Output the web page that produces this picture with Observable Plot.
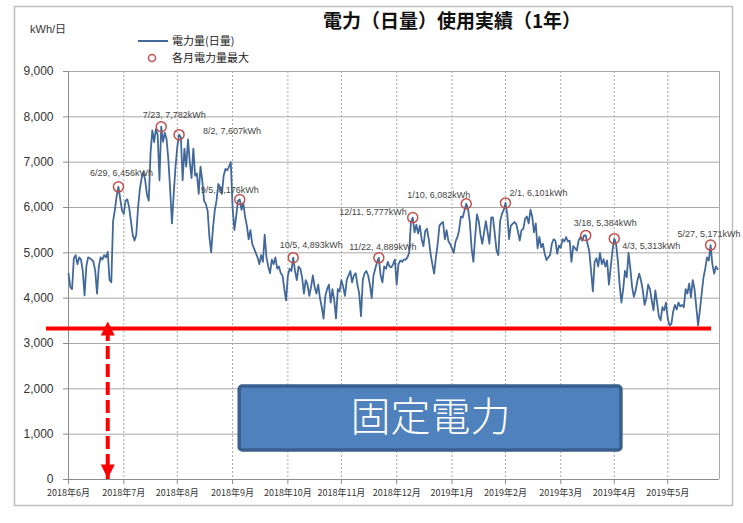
<!DOCTYPE html>
<html><head><meta charset="utf-8">
<script src="https://cdn.jsdelivr.net/npm/d3@7"></script>
<script src="https://cdn.jsdelivr.net/npm/@observablehq/plot@0.6"></script>
<style>
body{margin:0;background:#fff}
#chart{width:743px;height:523px}
</style></head><body><div id="chart"></div>
<script>
// ---- data: daily electricity use (kWh/day), one array per month ----
const jun = [4540,4250,4200,4880,4950,4750,4900,4850,4600,4060,4700,4900,4880,4850,4800,4600,4100,4700,4900,4850,4950,4900,5020,4400,4350,5700,5950,6250,6456,6190];
const jul = [5930,5860,6150,6180,6000,5700,5400,5270,5400,6000,6400,6650,6780,6600,6280,6150,7200,7700,7440,7730,7600,6600,7782,7450,7650,7500,7050,6400,5650,6300,6900];
const aug = [7330,7607,7550,6600,7300,6900,7500,7000,6650,7300,6700,6750,6300,6900,6600,6150,6080,5930,5350,5010,5550,5930,6150,6520,6450,6300,6700,6850,6820,6900,7000];
const sep = [6000,5500,5800,6150,6176,5950,6100,5800,5600,5300,5500,5200,5100,5000,4900,4750,4950,4800,5400,4900,4700,4550,4850,4750,4900,4650,4700,4550,4500,4200];
const oct = [3950,4500,4650,4600,4893,4600,4400,4700,4650,4450,4100,4400,4300,4050,4250,4500,4250,4100,4300,4000,3800,3550,4050,4200,4300,3900,4200,3950,3550,4200,4150];
const nov = [4400,4250,4050,4400,4500,4600,4350,4500,4550,4300,4100,3600,4400,4550,4600,4500,4300,4000,4500,4650,4800,4889,4500,4350,4700,4650,4800,4700,4680,4750];
const dec = [4850,4300,4750,4830,4800,4850,4850,4900,5000,5680,5777,5450,5620,5430,5600,5300,5150,5480,5530,5300,4980,4750,4540,4900,5200,5600,5650,5680,5300,5500,5260];
const jan = [5190,5100,5000,5250,5340,5500,5800,5780,5930,6082,5970,5680,5100,4800,5350,5850,5700,5400,5200,5450,5700,5450,5200,5780,5780,5420,5050,4950,5700,5860,5940];
const feb = [6101,5860,5300,5600,5640,5680,5640,5470,5270,5500,5530,5750,5800,5650,5950,5800,5450,5650,5100,5350,5120,5200,4980,4840,4900,4950,5200,5300];
const mar = [5270,4980,5160,5110,5300,5250,5350,5250,5270,4800,5150,5100,5050,5270,5345,5270,5382,5384,5200,5030,4600,4150,4800,4880,4700,5000,4750,4860,4700,4830,4300];
const apr = [4680,5050,5313,5200,4830,4300,3900,4200,4600,4460,5000,4650,4250,4030,4170,4390,4540,4390,4170,3850,4000,4300,4200,3950,3730,4170,3900,3600,3510,3800];
const may = [3730,3900,3550,3400,3430,3700,3850,3750,3900,3820,3850,3800,4200,4100,4320,4020,4400,4200,3800,3400,3730,4100,4450,4650,4900,4830,5171,4750,4540,4700,4640];
const startDate = "2018-06-01";
const endDate = "2019-06-01";

// monthly maxima
const peakDates  = ["2018-06-29","2018-07-23","2018-08-02","2018-09-05","2018-10-05","2018-11-22","2018-12-11","2019-01-10","2019-02-01","2019-03-18","2019-04-03","2019-05-27"];
const peakValues = [6456,7782,7607,6176,4893,4889,5777,6082,6101,5384,5313,5171];
const peakLabels = ["6/29, 6,456kWh","7/23, 7,782kWh","8/2, 7,607kWh","9/5, 6,176kWh","10/5, 4,893kWh","11/22, 4,889kWh","12/11, 5,777kWh","1/10, 6,082kWh","2/1, 6,101kWh","3/18, 5,384kWh","4/3, 5,313kWh","5/27, 5,171kWh"];

// axes
const yTicks = [0,1000,2000,3000,4000,5000,6000,7000,8000,9000];
const xTickDates  = ["2018-06-01","2018-07-02","2018-08-01","2018-09-01","2018-10-02","2018-11-01","2018-12-02","2019-01-02","2019-02-01","2019-03-04","2019-04-03","2019-05-03"];
const xTickLabels = ["2018年6月","2018年7月","2018年8月","2018年9月","2018年10月","2018年11月","2018年12月","2019年1月","2019年2月","2019年3月","2019年4月","2019年5月"];

// annotations
const baseLoad = 3330;             // 固定電力 level (kWh/day)
const arrowDate = "2018-06-23";
const boxLabel = "固定電力";
const boxFrom = "2018-09-05", boxTo = "2019-04-07", boxLow = 640, boxHigh = 2050;

const titleText = "電力（日量）使用実績（1年）";
const unitText = "kWh/日";
const legendLine = "電力量(日量)";
const legendDot = "各月電力量最大";

// ---- build ----
const parse = d3.utcParse("%Y-%m-%d");
const t0 = parse(startDate);
const daily = [jun,jul,aug,sep,oct,nov,dec,jan,feb,mar,apr,may].flat()
  .map((value, i) => ({date: d3.utcDay.offset(t0, i), value}));
const peaks = peakDates.map((d, i) => ({date: parse(d), value: peakValues[i], label: peakLabels[i]}));
const xTicks = xTickDates.map(parse);
const tickLabel = new Map(xTicks.map((d, i) => [+d, xTickLabels[i]]));

// label placement relative to each circle (layout only)
const labelPos = [
  {dx: 3, dy: -14, a: "middle"},
  {dx: 13, dy: -12, a: "middle"},
  {dx: 24, dy: -4, a: "start"},
  {dx: -10, dy: -9, a: "middle"},
  {dx: 18, dy: -13, a: "middle"},
  {dx: 4, dy: -11, a: "middle"},
  {dx: -6, dy: -5, a: "end"},
  {dx: 4, dy: -9, a: "end"},
  {dx: 4, dy: -10, a: "start"},
  {dx: -12, dy: -12, a: "start"},
  {dx: 8, dy: 7, a: "start"},
  {dx: -33, dy: -11, a: "start"}
];

const RED = "#FF0000", LINE = "#43699A", PEAK = "#C0504D", GRID = "#A9A9A9";
const SANS = "'Liberation Sans', 'Noto Sans CJK JP', sans-serif";
const CJK = "'Noto Sans CJK JP', sans-serif";

const triUp = {draw(ctx) { ctx.moveTo(0, 0); ctx.lineTo(7, 14); ctx.lineTo(-7, 14); ctx.closePath(); }};
const triDown = {draw(ctx) { ctx.moveTo(0, 0); ctx.lineTo(7, -14); ctx.lineTo(-7, -14); ctx.closePath(); }};

const arrow = [{date: parse(arrowDate)}];
const box = [{from: parse(boxFrom), to: parse(boxTo), low: boxLow, high: boxHigh, label: boxLabel}];

const chart = Plot.plot({
  width: 743, height: 523,
  marginLeft: 68, marginRight: 24, marginTop: 71, marginBottom: 44,
  style: {fontFamily: SANS, background: "white", overflow: "visible", color: "#333"},
  x: {type: "utc", domain: [parse(startDate), parse(endDate)]},
  y: {domain: [0, 9000]},
  marks: [
    Plot.gridY(yTicks, {stroke: GRID, strokeOpacity: 1}),
    Plot.gridX(xTicks, {stroke: GRID, strokeOpacity: 1, strokeDasharray: "2,2"}),
    Plot.ruleX([parse(endDate)], {stroke: GRID}),
    Plot.ruleX([parse(startDate)], {stroke: "#8C8C8C"}),
    Plot.ruleY([0], {stroke: "#8C8C8C"}),
    Plot.axisY(yTicks, {tickFormat: d3.format(","), tickSize: 5, tickPadding: 10, fontSize: 12, stroke: "#8C8C8C", fill: "#333", label: null}),
    Plot.axisX(xTicks, {tickFormat: d => tickLabel.get(+d), tickSize: 5, tickPadding: 5, fontSize: 9, fontFamily: CJK, stroke: "#8C8C8C", fill: "#333", label: null}),
    Plot.lineY(daily, {x: "date", y: "value", stroke: LINE, strokeWidth: 1.8}),
    Plot.dot(peaks, {x: "date", y: "value", r: 5, stroke: PEAK, strokeWidth: 1.5, fill: "none"}),
    ...peaks.map((p, i) => Plot.text([p], {x: "date", y: "value", text: "label", dx: labelPos[i].dx, dy: labelPos[i].dy, textAnchor: labelPos[i].a, fontSize: 9, fill: "#444"})),
    Plot.ruleY([baseLoad], {stroke: RED, strokeWidth: 4, insetLeft: -22, insetRight: 8}),
    Plot.ruleX(arrow, {x: "date", y1: baseLoad, y2: 0, stroke: RED, strokeWidth: 4, strokeDasharray: "13,5"}),
    Plot.dot(arrow, {x: "date", y: () => baseLoad, symbol: triUp, fill: RED, stroke: "none", dy: -7}),
    Plot.dot(arrow, {x: "date", y: () => 0, symbol: triDown, fill: RED, stroke: "none", dy: -1}),
    Plot.rect(box, {x1: "from", x2: "to", y1: "low", y2: "high", fill: "#4F81BD", stroke: "#3A5F8F", strokeWidth: 3.5, rx: 3}),
    Plot.text(box, {x: d => new Date((+d.from + +d.to) / 2), y: d => (d.low + d.high) / 2, text: "label", fill: "white", fontSize: 40, fontFamily: CJK, fontWeight: 300})
  ]
});

const svg = d3.select(chart);
svg.insert("rect", ":first-child").attr("x", 14.5).attr("y", 6.5).attr("width", 718).attr("height", 499)
  .attr("fill", "white").attr("stroke", "#BFBFBF").attr("stroke-width", 1.5);
const note = svg.append("g").attr("text-anchor", "start");
note.append("text").attr("x", 30).attr("y", 33).attr("font-size", 11).attr("font-family", SANS).attr("fill", "#333").text(unitText);
note.append("text").attr("x", 452).attr("y", 28).attr("text-anchor", "middle").attr("font-size", 19).attr("font-weight", "bold").attr("font-family", CJK).attr("fill", "#111").text(titleText);
note.append("line").attr("x1", 138).attr("x2", 168).attr("y1", 41).attr("y2", 41).attr("stroke", LINE).attr("stroke-width", 2);
note.append("text").attr("x", 172).attr("y", 45).attr("font-size", 11).attr("font-family", CJK).attr("fill", "#222").text(legendLine);
note.append("circle").attr("cx", 152).attr("cy", 58).attr("r", 3.5).attr("fill", "none").attr("stroke", PEAK).attr("stroke-width", 1.5);
note.append("text").attr("x", 172).attr("y", 62).attr("font-size", 11).attr("font-family", CJK).attr("fill", "#222").text(legendDot);

document.getElementById("chart").appendChild(chart);
</script></body></html>
